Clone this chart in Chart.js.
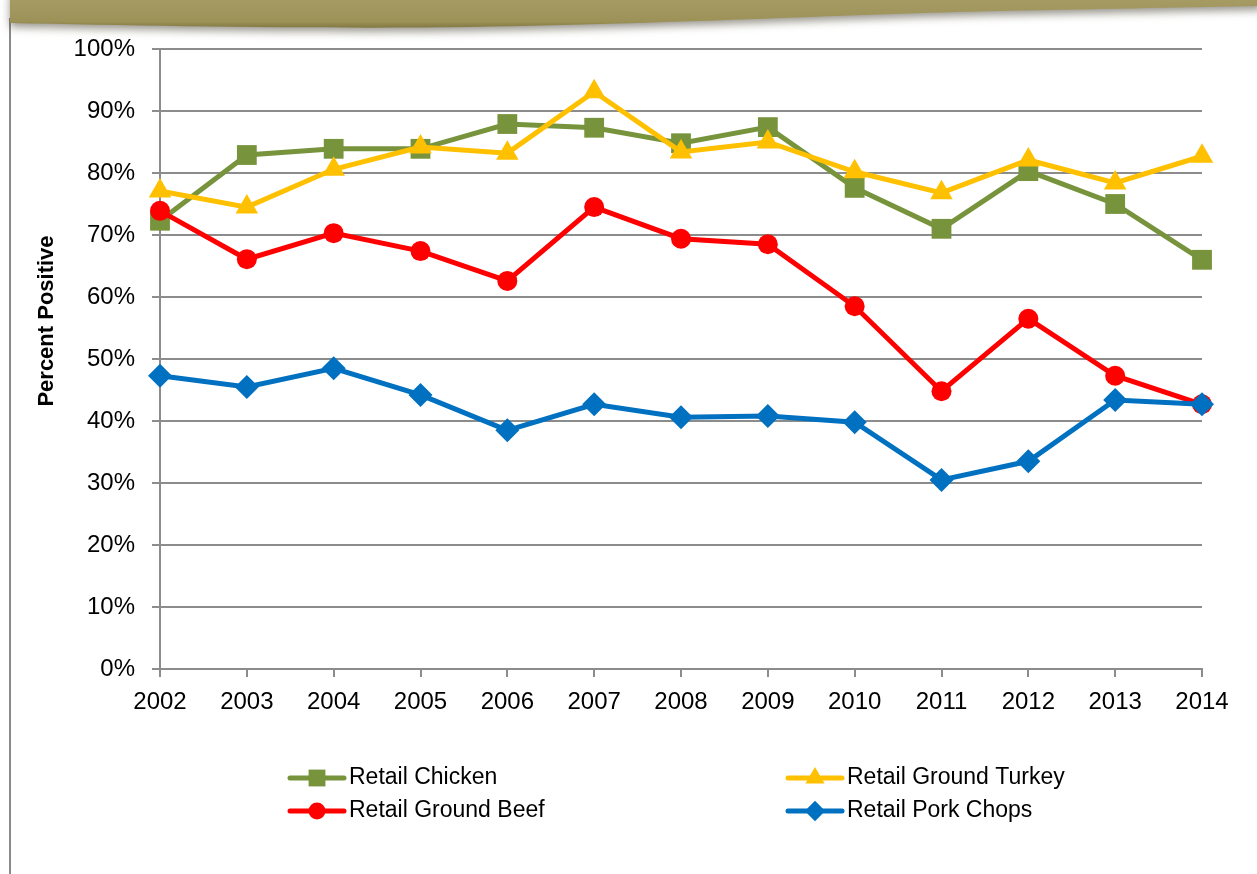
<!DOCTYPE html>
<html>
<head>
<meta charset="utf-8">
<script src="https://cdn.jsdelivr.net/npm/chart.js@4/dist/chart.umd.min.js"></script>
<style>
  html, body { margin: 0; padding: 0; background: #fff; }
  #wrap { width: 1257px; height: 874px; position: relative; }
</style>
</head>
<body>
<div id="wrap"><canvas id="chart" width="1257" height="874"></canvas></div>
<script>
/* data ----------------------------------------------------------- */
const years   = ['2002','2003','2004','2005','2006','2007','2008','2009','2010','2011','2012','2013','2014'];
const chicken = [72.3, 82.9, 83.9, 83.9, 87.9, 87.3, 84.8, 87.4, 77.6, 71.0, 80.3, 75.0, 66.0];
const turkey  = [77.1, 74.5, 80.6, 84.2, 83.2, 93.1, 83.4, 85.0, 80.2, 76.8, 82.1, 78.4, 82.7];
const beef    = [73.9, 66.1, 70.3, 67.4, 62.6, 74.5, 69.4, 68.5, 58.5, 44.8, 56.5, 47.3, 42.7];
const pork    = [47.3, 45.5, 48.5, 44.2, 38.5, 42.7, 40.6, 40.8, 39.8, 30.5, 33.5, 43.4, 42.7];
const yTicks  = [0, 10, 20, 30, 40, 50, 60, 70, 80, 90, 100];
const yTitle  = 'Percent Positive';

const FONT  = '"Liberation Sans", Arial, sans-serif';
const GRID  = '#8c8c8c';

/* 1. series ------------------------------------------------------ */
function series(label, data, color, style, radius, order) {
  return {
    label, data, order,
    borderColor: color, backgroundColor: color,
    borderWidth: 5, tension: 0,
    pointStyle: style, pointRadius: radius, pointHoverRadius: radius,
    pointBorderWidth: 0
  };
}

/* 2. header band + left rule + axis title ------------------------ */
const frame = {
  id: 'frame',
  beforeDraw(chart) {
    const ctx = chart.ctx, W = chart.width;
    ctx.save();
    ctx.strokeStyle = '#8a8a8a'; ctx.lineWidth = 2;
    ctx.beginPath(); ctx.moveTo(10, 18); ctx.lineTo(10, 874); ctx.stroke();

    ctx.shadowColor = 'rgba(50,45,25,0.5)';
    ctx.shadowBlur = 9; ctx.shadowOffsetY = 4;
    const g = ctx.createLinearGradient(0, 0, 0, 29);
    g.addColorStop(0, '#a69c63'); g.addColorStop(0.75, '#9c9157'); g.addColorStop(1, '#7c733d');
    ctx.fillStyle = g;
    ctx.beginPath();
    ctx.moveTo(10, -10); ctx.lineTo(10, 23);
    ctx.bezierCurveTo(150, 26, 330, 29, 470, 27);
    ctx.bezierCurveTo(700, 23, 850, 14, 1000, 11);
    ctx.bezierCurveTo(1120, 9, 1200, 7, W + 5, 6);
    ctx.lineTo(W + 5, -10); ctx.closePath(); ctx.fill();
    ctx.restore();

    ctx.save();
    ctx.translate(47, 321); ctx.rotate(-Math.PI / 2);
    ctx.fillStyle = '#000'; ctx.font = 'bold 22px ' + FONT;
    ctx.textAlign = 'center'; ctx.textBaseline = 'middle';
    ctx.fillText(yTitle, 0, 0);
    ctx.restore();
  }
};

/* 3. two-column legend ------------------------------------------- */
const legend2 = {
  id: 'legend2',
  afterDraw(chart) {
    const ctx = chart.ctx;
    const cols = [290, 788], rows = [778, 811];
    chart.data.datasets.forEach((ds, i) => {
      const x = cols[i % 2], y = rows[Math.floor(i / 2)];
      ctx.save();
      ctx.strokeStyle = ds.borderColor; ctx.lineWidth = 5; ctx.lineCap = 'round';
      ctx.beginPath(); ctx.moveTo(x, y); ctx.lineTo(x + 54, y); ctx.stroke();
      ctx.fillStyle = ds.backgroundColor;
      Chart.helpers.drawPoint(ctx, { pointStyle: ds.pointStyle, radius: ds.pointRadius * 0.85, borderWidth: 0 }, x + 27, y);
      ctx.fillStyle = '#000'; ctx.font = '23px ' + FONT; ctx.textBaseline = 'middle';
      ctx.fillText(ds.label, x + 59, y);
      ctx.restore();
    });
  }
};

/* 4. chart ------------------------------------------------------- */
new Chart(document.getElementById('chart'), {
  type: 'line',
  data: {
    labels: years,
    datasets: [
      series('Retail Chicken',       chicken, '#77933c', 'rect',     14, 4),
      series('Retail Ground Turkey', turkey,  '#ffc000', 'triangle', 13, 3),
      series('Retail Ground Beef',   beef,    '#ff0000', 'circle',   10, 2),
      series('Retail Pork Chops',    pork,    '#0070c0', 'rectRot',  12, 1)
    ]
  },
  options: {
    responsive: false,
    animation: false,
    devicePixelRatio: 1,
    layout: { padding: { left: 32, right: 55, top: 49, bottom: 145 } },
    plugins: { legend: { display: false }, tooltip: { enabled: false } },
    scales: {
      x: {
        afterFit: s => { s.height = 60; },
        grid: { drawOnChartArea: false, drawTicks: true, tickLength: 8, color: GRID, lineWidth: 2 },
        border: { color: GRID, width: 2 },
        ticks: { color: '#000', font: { family: FONT, size: 24 }, padding: 11, maxRotation: 0 }
      },
      y: {
        min: 0, max: 100,
        afterFit: s => { s.width = 128; },
        afterBuildTicks: s => { s.ticks = yTicks.map(v => ({ value: v })); },
        grid: { color: GRID, lineWidth: 2, tickLength: 8 },
        border: { color: GRID, width: 2 },
        ticks: { color: '#000', font: { family: FONT, size: 24 }, padding: 17, callback: v => v + '%' }
      }
    }
  },
  plugins: [frame, legend2]
});
</script>
</body>
</html>
